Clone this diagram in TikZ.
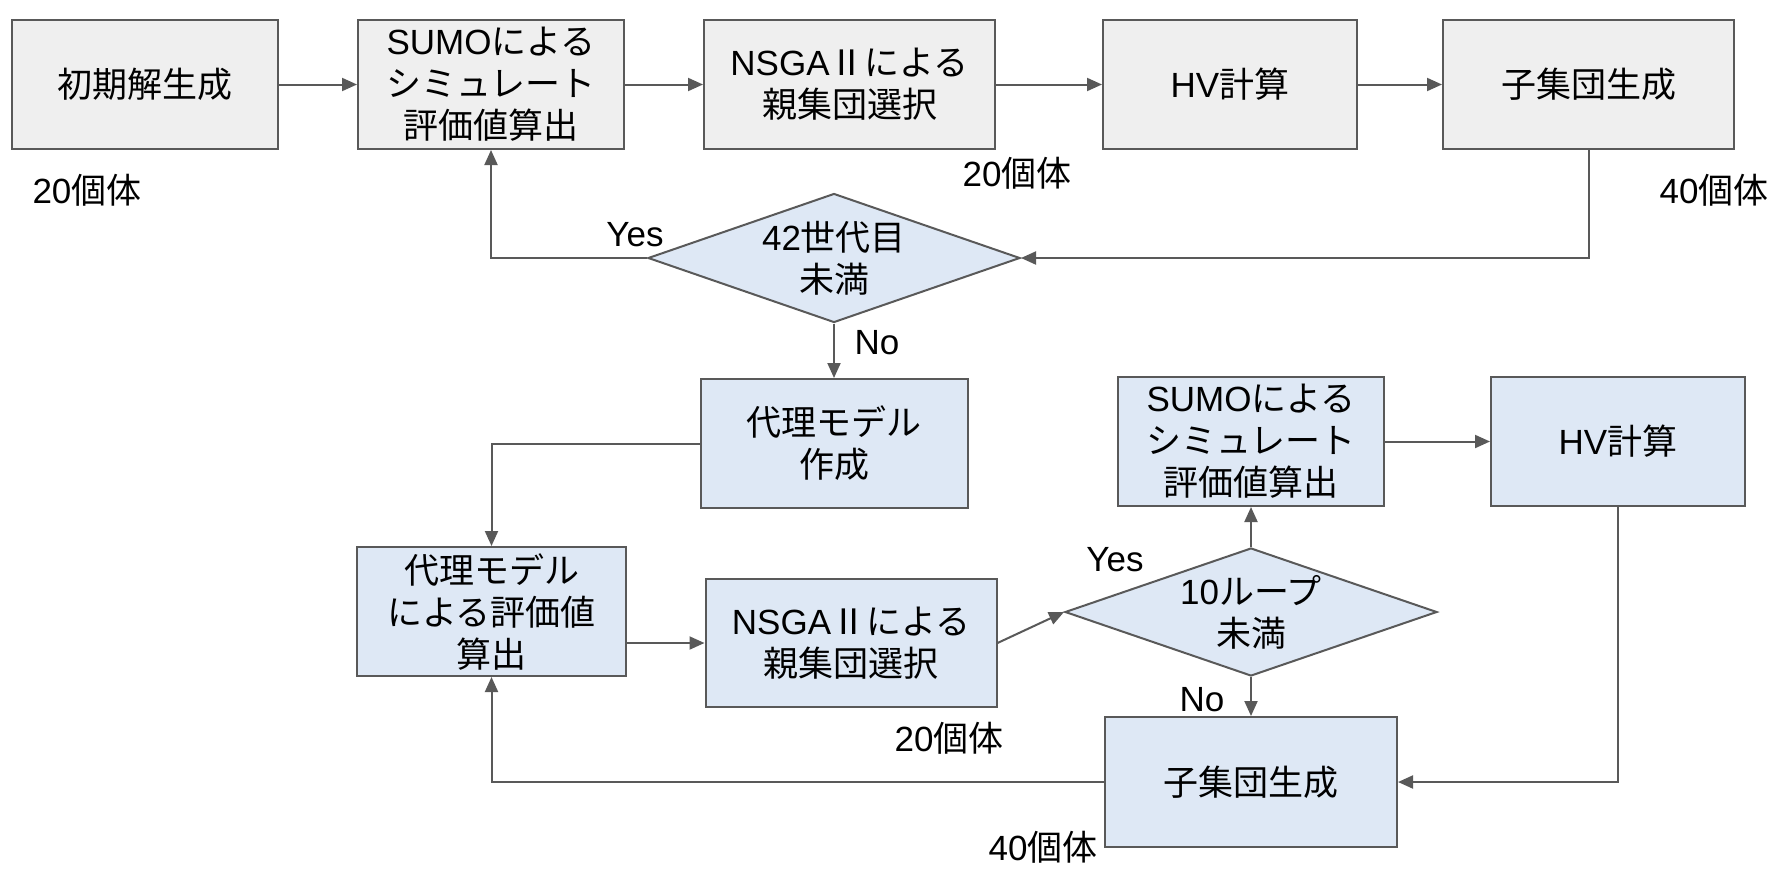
\documentclass[tikz,border=0pt]{standalone}
\usepackage{fontspec}
\setmainfont{Noto Sans CJK JP}
\newfontfamily\latfont{Liberation Sans}
\newcommand\En[1]{{\latfont #1}}
\usetikzlibrary{arrows.meta,shapes.geometric,calc}
\definecolor{edge}{HTML}{595959}
\definecolor{grayfill}{HTML}{EFEFEF}
\definecolor{bluefill}{HTML}{DEE8F5}
\begin{document}
\begin{tikzpicture}[x=1pt,y=-1pt,
  font=\fontsize{35}{42}\selectfont,
  box/.style={draw=edge,line width=2pt,align=center,inner sep=0pt,minimum height=129pt},
  topbox/.style={box,fill=grayfill},
  botbox/.style={box,fill=bluefill},
  dia/.style={diamond,draw=edge,line width=2pt,fill=bluefill,inner sep=0pt,minimum width=372pt,minimum height=129pt},
  conn/.style={draw=edge,line width=2pt,-{Triangle[length=15pt,width=13pt]}},
  lbl/.style={inner sep=0pt}]
\useasboundingbox (0,0) rectangle (1784,876);
% top row
\node[topbox,minimum width=266pt] (A) at (145,84.5) {初期解生成};
\node[topbox,minimum width=266pt] (B) at (491,84.5) {\En{SUMO}による\\シミュレート\\評価値算出};
\node[topbox,minimum width=291pt] (C) at (849.5,84.5) {\En{NSGA}Ⅱによる\\親集団選択};
\node[topbox,minimum width=254pt] (D) at (1230,84.5) {\En{HV}計算};
\node[topbox,minimum width=291pt] (E) at (1588.5,84.5) {子集団生成};
\node[dia,label={[align=center]center:{\En{42}世代目\\未満}}] (Q1) at (834,258) {};
% bottom part
\node[botbox,minimum width=267pt] (F) at (834,443.5) {代理モデル\\作成};
\node[botbox,minimum width=269pt] (G) at (491.5,611.5) {代理モデル\\による評価値\\算出};
\node[botbox,minimum width=291pt,minimum height=128pt] (H) at (851,643) {\En{NSGA}Ⅱによる\\親集団選択};
\node[botbox,minimum width=266pt] (I) at (1251,441.5) {\En{SUMO}による\\シミュレート\\評価値算出};
\node[botbox,minimum width=254pt] (J) at (1618,441.5) {\En{HV}計算};
\node[botbox,minimum width=292pt,minimum height=130pt] (K) at (1251,782) {子集団生成};
\node[dia,minimum height=128pt,label={[align=center]center:{\En{10}ループ\\未満}}] (Q2) at (1251,612) {};
% labels
\node[lbl] (n20a) at (87,190) {\En{20}個体};
\node[lbl] (n20b) at (1017,173) {\En{20}個体};
\node[lbl] (n40a) at (1714,190) {\En{40}個体};
\node[lbl] (yes1) at (635,235) {\En{Yes}};
\node[lbl] (no1) at (877,343) {\En{No}};
\node[lbl] (yes2) at (1115,560) {\En{Yes}};
\node[lbl] (no2) at (1202,700) {\En{No}};
\node[lbl] (n20c) at (949,738) {\En{20}個体};
\node[lbl] (n40c) at (1043,847) {\En{40}個体};
% connectors
\draw[conn] (A) -- (B);
\draw[conn] (B) -- (C);
\draw[conn] (C) -- (D);
\draw[conn] (D) -- (E);
\draw[conn] (E.south) |- (Q1.east);
\draw[conn] (Q1.west) -| (B.south);
\draw[conn] (Q1.south) -- (F.north);
\draw[conn] (F.west) -| (G.north);
\draw[conn] (G.east |- H.west) -- (H.west);
\draw[conn] (H.east) -- (Q2.west);
\draw[conn] (Q2.north) -- (I.south);
\draw[conn] (I.east) -- (J.west);
\draw[conn] (J.south) |- (K.east);
\draw[conn] (Q2.south) -- (K.north);
\draw[conn] (K.west) -| (G.south);
\end{tikzpicture}
\end{document}
